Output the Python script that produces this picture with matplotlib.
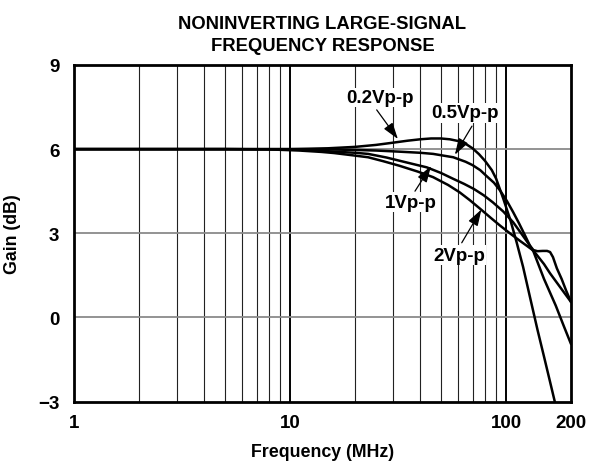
import matplotlib
matplotlib.use('Agg')
import matplotlib.pyplot as plt
from matplotlib.ticker import FixedLocator, NullFormatter

plt.rcParams['font.family'] = ['Liberation Sans', 'DejaVu Sans']

# curve readings: frequency in MHz, gain in dB
freq_02 = [1, 5, 10, 15, 20, 25, 30, 35, 40, 45, 50, 55, 60, 65, 70, 75, 80, 86, 90, 97,
           105, 112, 120, 129, 140, 150, 160, 170, 180]
gain_02 = [6.0, 6.0, 6.0, 6.03, 6.08, 6.15, 6.23, 6.3, 6.35, 6.38, 6.38, 6.35, 6.29, 6.19, 6.03,
           5.82, 5.58, 5.25, 4.95, 4.25, 3.45, 2.68, 1.8, 0.74, -0.45, -1.4, -2.3, -3.15, -4.0]

freq_05 = [1, 5, 10, 15, 20, 25, 32, 40, 46, 57, 65, 70, 76, 81, 88, 94, 101, 108, 115, 122,
           129, 134, 150, 170, 185, 200]
gain_05 = [6.0, 6.0, 6.0, 5.99, 5.97, 5.95, 5.91, 5.87, 5.83, 5.71, 5.55, 5.43, 5.25, 5.05, 4.8,
           4.52, 4.15, 3.75, 3.35, 2.95, 2.56, 2.35, 1.37, 0.42, -0.3, -0.95]

freq_1 = [1, 5, 10, 13, 16, 20, 23, 28, 32, 38, 43, 50, 57, 64, 71, 79, 87, 97, 108, 118,
          129, 134, 140, 148, 155, 160, 165, 172, 181, 190, 200]
gain_1 = [6.0, 6.0, 5.99, 5.96, 5.91, 5.87, 5.83, 5.7, 5.59, 5.45, 5.35, 5.15, 4.94, 4.76, 4.58,
          4.35, 4.1, 3.78, 3.39, 2.98, 2.56, 2.4, 2.36, 2.37, 2.37, 2.33, 2.15, 1.75, 1.37, 0.95, 0.55]

freq_2 = [1, 5, 8, 11, 14, 16, 19, 23, 27, 32, 39, 46, 54, 61, 68, 76, 85, 94, 105, 116,
          125, 134, 150, 160, 180, 200]
gain_2 = [6.0, 6.0, 5.99, 5.95, 5.9, 5.86, 5.79, 5.71, 5.57, 5.41, 5.2, 5.0, 4.72, 4.46, 4.18,
          3.87, 3.55, 3.27, 2.98, 2.73, 2.55, 2.38, 1.9, 1.57, 1.03, 0.55]

x_ticks = [1, 10, 100, 200]
x_tick_labels = ['1', '10', '100', '200']
y_ticks = [-3, 0, 3, 6, 9]
y_tick_labels = ['\u22123', '0', '3', '6', '9']
minor_grid = [2, 3, 4, 5, 6, 7, 8, 9, 20, 30, 40, 50, 60, 70, 80, 90]

# label text, text position, arrow tail, arrow tip
labels = [
    ('0.2Vp-p', (26.1, 7.84), (25.2, 7.40), (31.6, 6.36)),
    ('0.5Vp-p', (64.6, 7.29), (69.6, 6.82), (58.0, 5.80)),
    ('1Vp-p', (36.3, 4.11), (37.9, 4.50), (45.0, 5.40)),
    ('2Vp-p', (60.6, 2.22), (62.4, 2.66), (77.0, 3.85)),
]

fig = plt.figure(figsize=(5.89, 4.64), dpi=100)
ax = fig.add_axes([74 / 589, 61.5 / 464, 497 / 589, 336.5 / 464])

ax.set_xscale('log')
ax.set_xlim(1, 200)
ax.set_ylim(-3, 9)

for f in minor_grid:
    ax.axvline(f, color='#222222', lw=0.8, zorder=1)
for f in [10, 100]:
    ax.axvline(f, color='black', lw=1.4, zorder=1)
for g in [0, 3, 6]:
    ax.axhline(g, color='#8a8a8a', lw=1.3, zorder=1)

for fr, gn in [(freq_02, gain_02), (freq_05, gain_05), (freq_1, gain_1), (freq_2, gain_2)]:
    ax.plot(fr, gn, color='black', lw=1.8, zorder=3, solid_capstyle='round')

for txt, pos, tail, tip in labels:
    ax.text(pos[0], pos[1], txt, ha='center', va='center', fontsize=13.5, fontweight='bold',
            zorder=5, bbox=dict(facecolor='white', edgecolor='none', pad=1.0))
    ax.annotate('', xy=tip, xytext=tail, zorder=6,
                arrowprops=dict(arrowstyle='-|>,head_length=1.0,head_width=0.32',
                                color='black', lw=0.9, shrinkA=0, shrinkB=0))

ax.xaxis.set_major_locator(FixedLocator(x_ticks))
ax.xaxis.set_minor_locator(FixedLocator([]))
ax.xaxis.set_minor_formatter(NullFormatter())
ax.set_xticks(x_ticks)
ax.set_xticklabels(x_tick_labels, fontsize=13.5, fontweight='bold')
ax.set_yticks(y_ticks)
ax.set_yticklabels(y_tick_labels, fontsize=13.5, fontweight='bold')
ax.tick_params(axis='x', length=0, pad=9)
ax.tick_params(axis='y', length=0, pad=10.5)

for s in ax.spines.values():
    s.set_linewidth(2.0)
    s.set_zorder(7)

ax.set_xlabel('Frequency (MHz)', fontsize=12.8, fontweight='bold', labelpad=9)
ax.set_ylabel('Gain (dB)', fontsize=12.8, fontweight='bold', labelpad=12)
ax.set_title('NONINVERTING LARGE-SIGNAL\nFREQUENCY RESPONSE', fontsize=13.3,
             fontweight='bold', pad=11, linespacing=1.35)

fig.savefig('out.png', dpi=100)
